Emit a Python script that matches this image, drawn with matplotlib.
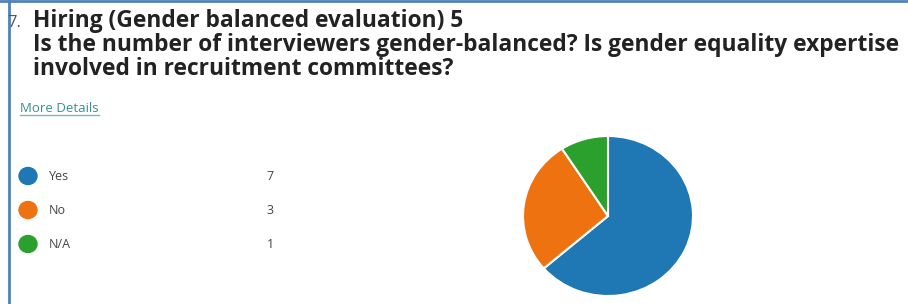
import matplotlib.pyplot as plt
from matplotlib.patches import Ellipse

W, H = 908, 304

question_no = "7."
title_lines = [
    "Hiring (Gender balanced evaluation) 5",
    "Is the number of interviewers gender-balanced? Is gender equality expertise",
    "involved in recruitment committees?",
]
link_text = "More Details"
labels = ['Yes', 'No', 'N/A']
counts = [7, 3, 1]
colors = ['#1f77b4', '#ef7210', '#2ca02c']

plt.rcParams['font.family'] = ['Open Sans', 'DejaVu Sans']

fig = plt.figure(figsize=(W / 100, H / 100), dpi=100)
fig.patch.set_facecolor('white')


def fx(px):
    return px / W


def fy(py):
    return 1 - py / H


# frame lines (top and left)
fig.add_artist(plt.Line2D([fx(9), fx(9)], [0, 1], color='#4f81bd', lw=2))
fig.add_artist(plt.Line2D([0, 1], [fy(1), fy(1)], color='#4f81bd', lw=2))

fig.text(fx(7), fy(27), question_no, fontsize=12, color='#555555', va='baseline')
for i, line in enumerate(title_lines):
    fig.text(fx(33), fy(27 + 24 * i), line, fontsize=16.4, fontweight='bold',
             color='#222222', va='baseline')

t = fig.text(fx(20), fy(112), link_text, fontsize=9.5, color='#3a8d93', va='baseline')
fig.add_artist(plt.Line2D([fx(20), fx(99)], [fy(115), fy(115)], color='#7fb8bc', lw=1))

# legend rows
for i, (lab, c, col) in enumerate(zip(labels, counts, colors)):
    y = 176 + 34 * i
    fig.add_artist(Ellipse((fx(28), fy(y)), 18 / W, 17 / H, color=col,
                           transform=fig.transFigure))
    fig.text(fx(49), fy(y), lab, fontsize=9, color='#444444', va='center')
    fig.text(fx(270), fy(y), str(c), fontsize=9, color='#444444', va='center', ha='center')

# pie
ax = fig.add_axes([fx(523), fy(296), (693 - 523) / W, (296 - 136) / H])
ax.pie(counts, colors=colors, startangle=90, counterclock=False,
       wedgeprops=dict(edgecolor='white', linewidth=1.5))
ax.set_aspect('auto')
ax.set_xlim(-1, 1)
ax.set_ylim(-1, 1)

fig.savefig('out.png', dpi=100)
